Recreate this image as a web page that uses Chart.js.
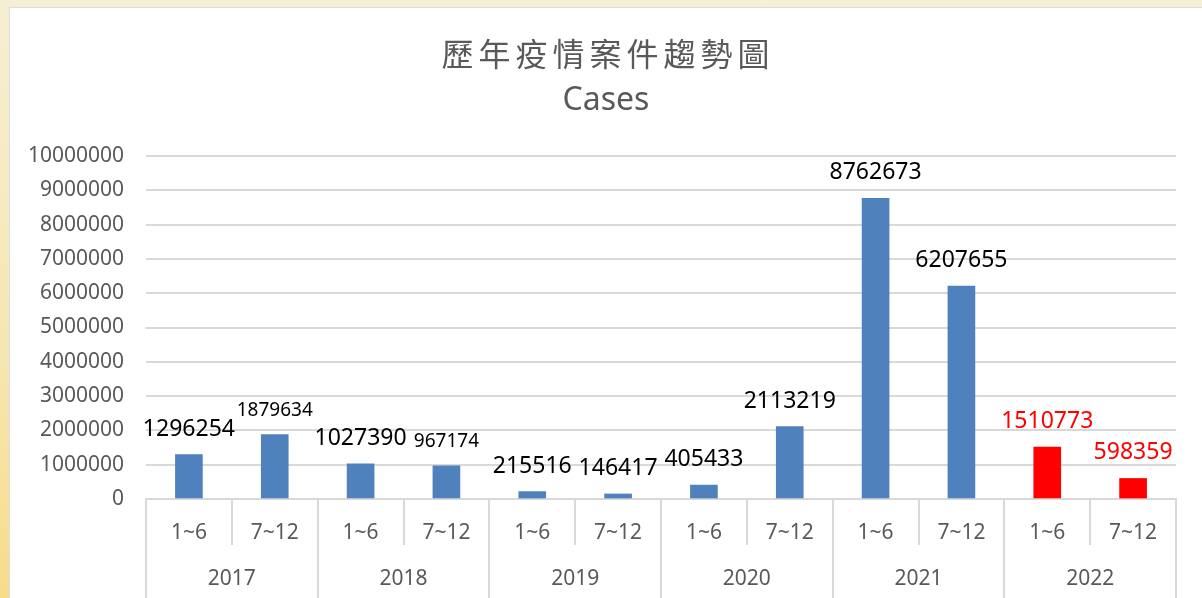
<!DOCTYPE html>
<html>
<head>
<meta charset="utf-8">
<script src="https://cdn.jsdelivr.net/npm/chart.js@4.4.1/dist/chart.umd.min.js"></script>
<style>
  html, body { margin: 0; padding: 0; }
  body {
    width: 1202px; height: 598px; overflow: hidden; position: relative;
    background: linear-gradient(to bottom, #f5efd3 0%, #f6e6b0 60%, #f8dc8a 100%);
  }
  #panel {
    position: absolute; left: 9px; top: 7px; width: 1193px; height: 591px;
    background: #fff; border-left: 1px solid #dcdde3; border-top: 1px solid #dcdde3;
    box-sizing: border-box;
  }
</style>
</head>
<body>
<div id="panel"><canvas id="casesChart"></canvas></div>
<script>
// Data
const titleText = "歷年疫情案件趨勢圖";
const subtitleText = "Cases";
const years = ["2017", "2018", "2019", "2020", "2021", "2022"];
const periods = ["1~6", "7~12", "1~6", "7~12", "1~6", "7~12", "1~6", "7~12", "1~6", "7~12", "1~6", "7~12"];
const cases = [1296254, 1879634, 1027390, 967174, 215516, 146417, 405433, 2113219, 8762673, 6207655, 1510773, 598359];
const yTicks = [0, 1000000, 2000000, 3000000, 4000000, 5000000, 6000000, 7000000, 8000000, 9000000, 10000000];

// Styles
const BLUE = "#4f81bd";
const RED = "#ff0000";
const GRID = "#d9d9d9";
const TEXT = "#595959";
const highlightYear = "2022";
const smallLabelIdx = [1, 3]; // labels that were drawn smaller in the original

const yearOf = (i) => years[Math.floor(i / 2)];
const barColors = cases.map((_, i) => (yearOf(i) === highlightYear ? RED : BLUE));

// Titles drawn on top (letter spaced like the original)
const titlePlugin = {
  id: "titles",
  afterDraw(chart) {
    const { ctx, width } = chart;
    ctx.save();
    ctx.fillStyle = TEXT;
    ctx.textAlign = "center";
    ctx.textBaseline = "middle";
    ctx.font = "400 32px 'Noto Sans CJK TC'";
    ctx.letterSpacing = "5px";
    ctx.fillText(titleText, width / 2 + 2, 46);
    ctx.letterSpacing = "0px";
    ctx.font = "32px 'Noto Sans'";
    ctx.fillText(subtitleText, width / 2, 93);
    ctx.restore();
  },
};

// Value labels above bars
const valueLabels = {
  id: "valueLabels",
  afterDatasetsDraw(chart) {
    const { ctx } = chart;
    const meta = chart.getDatasetMeta(0);
    ctx.save();
    ctx.textAlign = "center";
    ctx.textBaseline = "alphabetic";
    meta.data.forEach((bar, i) => {
      const small = smallLabelIdx.includes(i);
      ctx.font = (small ? 19 : 23) + "px 'Noto Sans'";
      ctx.fillStyle = yearOf(i) === highlightYear ? RED : "#000";
      ctx.fillText(String(cases[i]), bar.x, bar.y - 19);
    });
    ctx.restore();
  },
};

// Two-level category axis: separators + year row
const groupAxis = {
  id: "groupAxis",
  afterDraw(chart) {
    const { ctx } = chart;
    const xs = chart.scales.x;
    const step = xs.width / periods.length;
    const top = xs.top;
    ctx.save();
    ctx.strokeStyle = GRID;
    ctx.lineWidth = 2;
    for (let i = 0; i <= periods.length; i++) {
      const x = Math.round(xs.left + i * step);
      const bottom = i % 2 === 0 ? chart.height : top + 46;
      ctx.beginPath();
      ctx.moveTo(x, top);
      ctx.lineTo(x, bottom);
      ctx.stroke();
    }
    ctx.fillStyle = TEXT;
    ctx.font = "21px 'Noto Sans'";
    ctx.textAlign = "center";
    ctx.textBaseline = "middle";
    years.forEach((y, k) => {
      const cx = xs.left + (k * 2 + 1) * step;
      ctx.fillText(y, cx, top + 80);
    });
    ctx.restore();
  },
};

new Chart(document.getElementById("casesChart"), {
  type: "bar",
  data: {
    labels: periods,
    datasets: [
      {
        label: subtitleText,
        data: cases,
        backgroundColor: barColors,
        barThickness: 27,
      },
    ],
  },
  options: {
    responsive: true,
    maintainAspectRatio: false,
    animation: false,
    layout: { padding: { top: 148, right: 26, left: 0, bottom: 0 } },
    plugins: {
      legend: { display: false },
      tooltip: { enabled: false },
      title: { display: false },
    },
    scales: {
      x: {
        grid: { display: false },
        border: { display: true, color: GRID, width: 2 },
        ticks: {
          color: TEXT,
          font: { family: "'Noto Sans'", size: 21 },
          padding: 13,
          maxRotation: 0,
          autoSkip: false,
        },
        afterFit: (s) => { s.height = 99; },
      },
      y: {
        min: 0,
        max: yTicks[yTicks.length - 1],
        afterBuildTicks: (s) => { s.ticks = yTicks.map((v) => ({ value: v })); },
        grid: { color: GRID, lineWidth: 2, drawTicks: false },
        border: { display: false },
        ticks: {
          color: TEXT,
          font: { family: "'Noto Sans'", size: 21 },
          padding: 22,
          callback: (v) => String(v),
        },
        afterFit: (s) => { s.width = 136; },
      },
    },
  },
  plugins: [titlePlugin, valueLabels, groupAxis],
});
</script>
</body>
</html>
